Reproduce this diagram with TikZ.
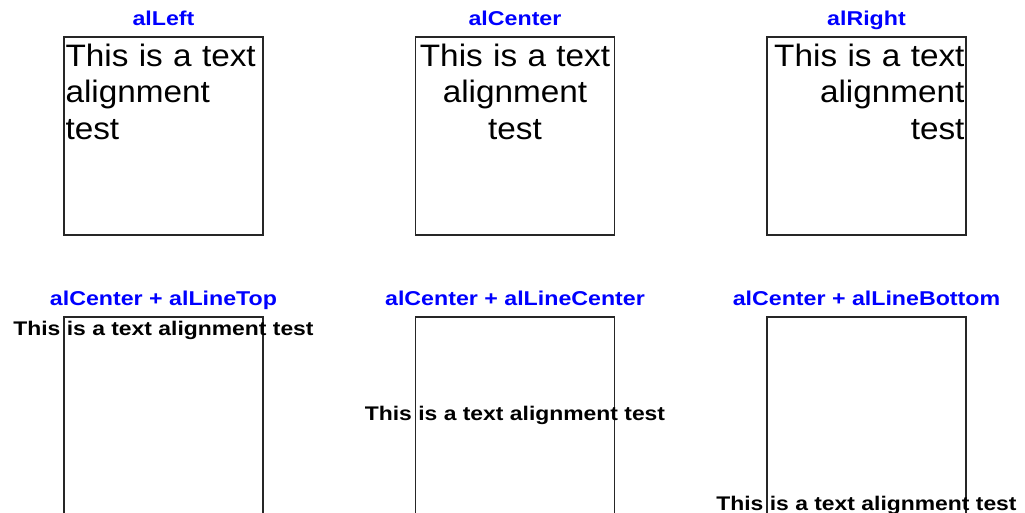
\documentclass[tikz,border=0pt]{standalone}
\usepackage{fontspec}
\setmainfont{Liberation Sans}
\newfontfamily\bodyfont[FakeStretch=1.075]{Liberation Sans}
\newfontfamily\headfont[FakeStretch=1.16]{Liberation Sans}
\usetikzlibrary{positioning}
\definecolor{headblue}{HTML}{0000FF}

\begin{document}
\begin{tikzpicture}[
    x=0.75pt, y=-0.75pt,
    frame/.style={rectangle, draw=black!85, line width=1.1pt, minimum width=149pt, minimum height=148.5pt, inner sep=0pt},
    heading/.style={font=\headfont\fontsize{15}{17}\selectfont\bfseries, text=headblue, inner sep=0pt, text depth=0pt},
    para/.style={font=\bodyfont\fontsize{23.25}{27.4}\selectfont, inner xsep=1pt, inner ysep=0pt, text width=147pt, anchor=north, yshift=-5.5pt},
    oneline/.style={font=\headfont\fontsize{14.8}{17}\selectfont\bfseries, inner sep=0pt, anchor=base}
]
    \useasboundingbox (0,0) rectangle (1025,513);

    % first row: horizontal alignment
    \node[frame] (boxL) at (163.5,136) {};
    \node[frame] (boxC) at (515,136)   {};
    \node[frame] (boxR) at (866.5,136) {};

    \node[heading, above=7.5pt of boxL] (headL) {alLeft};
    \node[heading, above=7.5pt of boxC] (headC) {alCenter};
    \node[heading, above=7.5pt of boxR] (headR) {alRight};

    \node[para, align=left]   (textL) at (boxL.north) {This is a text\\alignment\\test};
    \node[para, align=center] (textC) at (boxC.north) {This is a text\\alignment\\test};
    \node[para, align=right]  (textR) at (boxR.north) {This is a text\\alignment\\test};

    % second row: vertical line alignment
    \node[frame] (boxT) at (163.5,416) {};
    \node[frame] (boxM) at (515,416)   {};
    \node[frame] (boxB) at (866.5,416) {};

    \node[heading, above=7.5pt of boxT] (headT) {alCenter + alLineTop};
    \node[heading, above=7.5pt of boxM] (headM) {alCenter + alLineCenter};
    \node[heading, above=7.5pt of boxB] (headB) {alCenter + alLineBottom};

    \node[oneline] (lineT) at (163.5,336) {This is a text alignment test};
    \node[oneline] (lineM) at (515,420)   {This is a text alignment test};
    \node[oneline] (lineB) at (866.5,510) {This is a text alignment test};
\end{tikzpicture}
\end{document}
